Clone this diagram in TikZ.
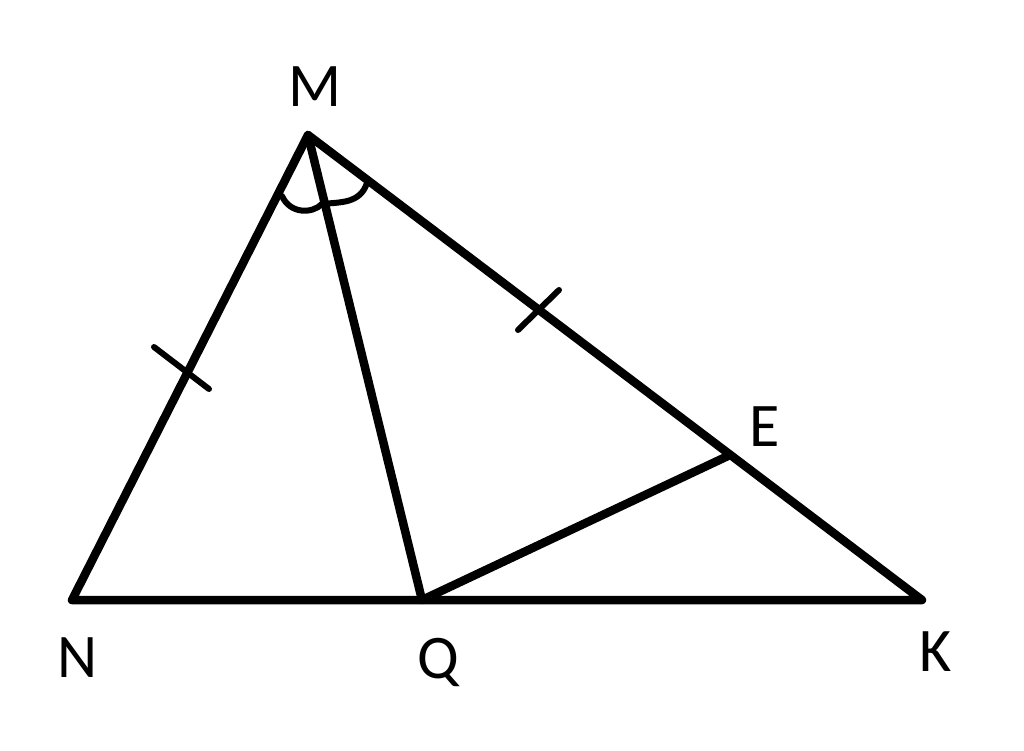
\documentclass[tikz,border=0pt]{standalone}
\usepackage{fontspec}
\setmainfont{Carlito}
\begin{document}
\begin{tikzpicture}[x=1pt,y=-1pt,
  seg/.style={line width=8.5pt,line cap=round,line join=round},
  tick/.style={line width=6pt,line cap=round},
  lbl/.style={font=\fontsize{62}{66}\selectfont,inner sep=0pt}]
\useasboundingbox[fill=white] (0,0) rectangle (1024,750);
\coordinate (M) at (308,135);
\coordinate (N) at (72,600);
\coordinate (K) at (922,600);
\coordinate (Q) at (422,600);
\coordinate (E) at (730,455);
\draw[seg] (N) -- (M) -- (K) -- cycle;
\draw[seg] (M) -- (Q);
\draw[seg] (Q) -- (E);
% equal-length ticks
\coordinate (t1a) at (154,347);
\coordinate (t1b) at (209,389);
\coordinate (t2a) at (518,330);
\coordinate (t2b) at (559,290);
\draw[tick] (t1a) -- (t1b);
\draw[tick] (t2a) -- (t2b);
% angle marks
\coordinate (a1) at (282,196);
\coordinate (a2) at (322,204);
\coordinate (a3) at (367,183);
\draw[tick] (a1) .. controls (290,214) and (312,214) .. (a2);
\draw[tick] (a2) .. controls (340,202) and (360,204) .. (a3);
% labels
\node[lbl] (lM) at (315,87) {M};
\node[lbl] (lN) at (78,658) {N};
\node[lbl] (lQ) at (438,662) {Q};
\node[lbl] (lK) at (936,652) {K};
\node[lbl] (lE) at (765,427) {E};
\end{tikzpicture}
\end{document}
